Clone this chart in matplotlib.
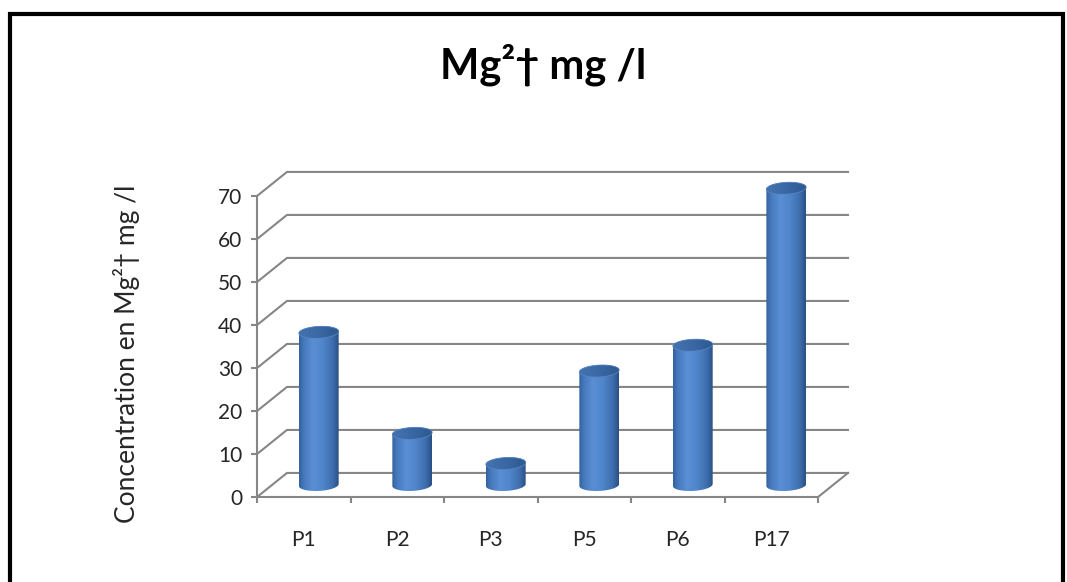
import numpy as np
import matplotlib
matplotlib.use("Agg")
import matplotlib.pyplot as plt
from matplotlib.colors import LinearSegmentedColormap
from matplotlib.patches import Polygon, Rectangle

plt.rcParams['font.family'] = ['Lato', 'DejaVu Sans']

# Concentrations en magnésium par point de prélèvement
points = ['P1', 'P2', 'P3', 'P5', 'P6', 'P17']
mg_values = [35.5, 12, 5, 26.5, 32.5, 69]
y_ticks = [0, 10, 20, 30, 40, 50, 60, 70]

title = 'Mg²† mg /l'
y_label = 'Concentration en Mg²† mg /l'

GRID = '#868686'
TEXT = '#262626'
DEPTH_X = 0.32   # décalage de profondeur (unités catégorie)
DEPTH_Y = 5.6    # décalage de profondeur (unités valeur)
RAD_X = 0.21     # demi-largeur du cylindre
RAD_Y = 1.4      # demi-hauteur de l'ellipse
TILT = 0.035

body_cmap = LinearSegmentedColormap.from_list('body', [
    (0.0, '#33609C'), (0.12, '#4679BC'), (0.35, '#5A8FD5'),
    (0.6, '#4F85CA'), (0.85, '#3D6DAD'), (1.0, '#2A4F84')])
top_cmap = LinearSegmentedColormap.from_list('top', [
    (0.0, '#4473B0'), (0.5, '#3A68A4'), (1.0, '#2E5990')])

fig = plt.figure(figsize=(10.67, 5.82), dpi=100, facecolor='white')
ax = fig.add_axes([0.2409, 0.1460, 0.5258, 0.5172])
n = len(points)
ax.set_xlim(0, n)
ax.set_ylim(0, 70)
ax.patch.set_visible(False)

# cadre noir autour du graphique
fig.patches.append(Rectangle((0.0094, -0.1), 0.9869, 1.076, transform=fig.transFigure,
                             fill=False, edgecolor='black', linewidth=3.0))

# murs : lignes de quadrillage sur le côté et au fond
for v in y_ticks:
    ax.plot([0, DEPTH_X, n + DEPTH_X], [v, v + DEPTH_Y, v + DEPTH_Y],
            color=GRID, lw=1.5, clip_on=False, zorder=1, solid_joinstyle='miter')
ax.plot([n, n + DEPTH_X], [0, DEPTH_Y], color=GRID, lw=1.5, clip_on=False, zorder=1)

# axes avant
for side in ['top', 'right']:
    ax.spines[side].set_visible(False)
for side in ['left', 'bottom']:
    ax.spines[side].set_color(GRID)
    ax.spines[side].set_linewidth(1.5)
ax.set_yticks(y_ticks)
ax.set_xticks(np.arange(n + 1))
ax.set_xticklabels([])
ax.set_xticks(np.arange(n) + 0.5, minor=True)
ax.set_xticklabels(points, minor=True)
ax.tick_params(axis='y', length=4.5, width=1.5, color=GRID, labelsize=15,
               labelcolor=TEXT, pad=6)
ax.tick_params(axis='x', which='major', length=4.5, width=1.5, color=GRID)
ax.tick_params(axis='x', which='minor', length=0, labelsize=15, labelcolor=TEXT, pad=24)


def ellipse_pts(cx, cy, t):
    return np.column_stack([cx + RAD_X * np.cos(t) + TILT * np.sin(t),
                            cy + RAD_Y * np.sin(t)])


# cylindres à mi-profondeur
t0 = np.arctan2(TILT, RAD_X)
half_w = np.hypot(RAD_X, TILT)
grad = np.linspace(0, 1, 256).reshape(1, -1)
for i, v in enumerate(mg_values):
    cx = i + 0.5 + 0.5 * DEPTH_X
    base = 0.5 * DEPTH_Y
    top = v + 0.5 * DEPTH_Y
    lower = ellipse_pts(cx, base, np.linspace(t0 + np.pi, t0 + 2 * np.pi, 60))
    upper = ellipse_pts(cx, top, np.linspace(t0, t0 + np.pi, 60))
    body = Polygon(np.vstack([lower, upper]), closed=True, facecolor='none',
                   edgecolor='none', transform=ax.transData)
    ax.add_patch(body)
    img = ax.imshow(grad, cmap=body_cmap, aspect='auto', interpolation='bilinear',
                    extent=[cx - half_w, cx + half_w, base - RAD_Y, top + RAD_Y],
                    zorder=3 + i)
    img.set_clip_box(fig.bbox)
    img.set_clip_path(body)

    cap = Polygon(ellipse_pts(cx, top, np.linspace(0, 2 * np.pi, 120)), closed=True,
                  facecolor='none', edgecolor='#5585C2', lw=0.6, zorder=3.5 + i,
                  clip_on=False)
    ax.add_patch(cap)
    cap_img = ax.imshow(grad, cmap=top_cmap, aspect='auto', interpolation='bilinear',
                        extent=[cx - half_w, cx + half_w, top - RAD_Y, top + RAD_Y],
                        zorder=3.4 + i)
    cap_img.set_clip_box(fig.bbox)
    cap_img.set_clip_path(cap)

ax.set_xlim(0, n)
ax.set_ylim(0, 70)

ax.set_ylabel(y_label, fontsize=19, color=TEXT, va='center')
ax.yaxis.set_label_coords(-0.232, 0.475)
fig.text(0.509, 0.888, title, ha='center', va='center', fontsize=30,
         fontweight='bold', color='black')

fig.savefig('out.png', dpi=100)
